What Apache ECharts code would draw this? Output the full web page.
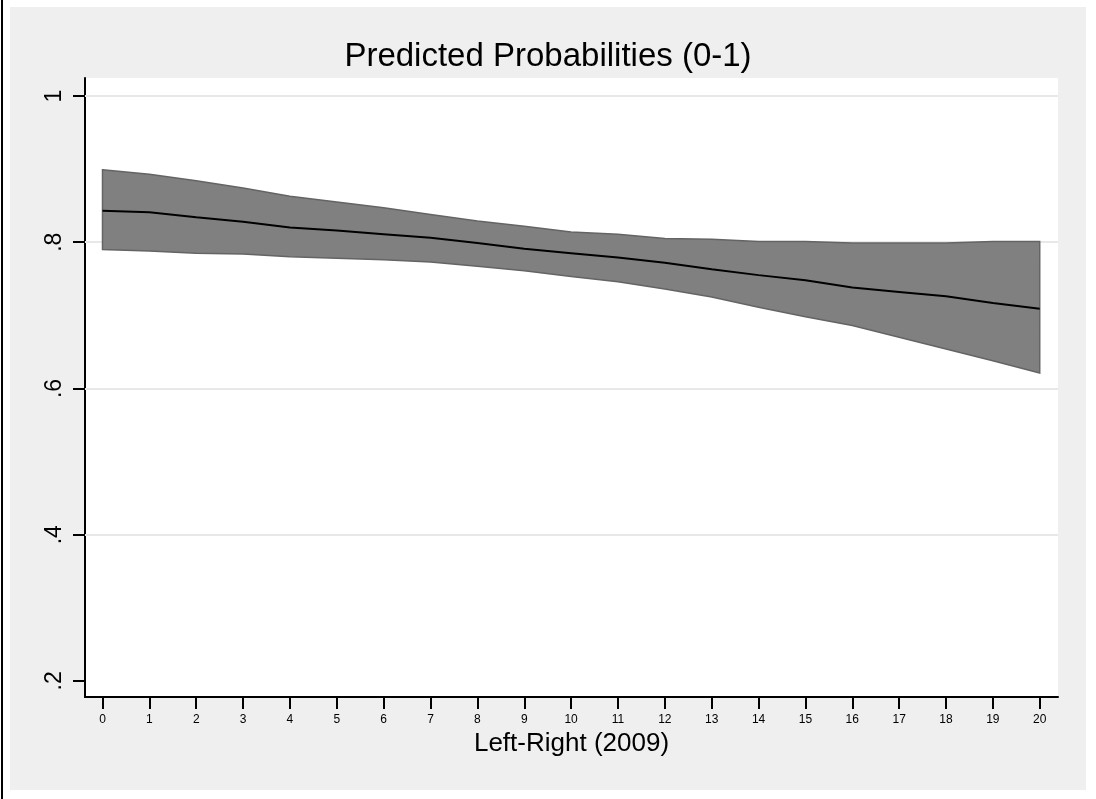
<!DOCTYPE html>
<html><head><meta charset="utf-8">
<script src="https://cdn.jsdelivr.net/npm/echarts@6/dist/echarts.min.js"></script>
<style>html,body{margin:0;padding:0;background:#fff}#c{width:1096px;height:799px}</style>
</head><body><div id="c"></div>
<script>
const xValues = [0,1,2,3,4,5,6,7,8,9,10,11,12,13,14,15,16,17,18,19,20];
const upper = [0.899,0.893,0.884,0.874,0.863,0.855,0.847,0.838,0.829,0.822,0.814,0.811,0.805,0.804,0.801,0.801,0.799,0.799,0.799,0.801,0.801];
const mean  = [0.843,0.841,0.834,0.828,0.820,0.816,0.811,0.806,0.799,0.791,0.785,0.779,0.772,0.763,0.755,0.748,0.738,0.732,0.726,0.717,0.709];
const lower = [0.790,0.788,0.785,0.784,0.780,0.778,0.776,0.773,0.767,0.761,0.753,0.746,0.736,0.725,0.711,0.698,0.686,0.670,0.654,0.638,0.621];
const xTicks = [0,1,2,3,4,5,6,7,8,9,10,11,12,13,14,15,16,17,18,19,20];
const yTicks = [0.2,0.4,0.6,0.8,1];
const yGrid = [0.4,0.6,0.8,1];
const titleText = 'Predicted Probabilities (0-1)';
const xName = 'Left-Right (2009)';

const FONT = 'Liberation Sans, Arial, sans-serif';
const chart = echarts.init(document.getElementById('c'), null, {renderer:'canvas'});
chart.setOption({
  animation: false,
  backgroundColor: '#ffffff',
  title: {
    text: titleText, left: 'center', top: 40, padding: 0,
    textStyle: {fontSize: 33, fontWeight: 'normal', color: '#000', fontFamily: FONT}
  },
  graphic: [
    {type:'rect', z:-20, shape:{x:1, y:0, width:2, height:799}, style:{fill:'#000'}},
    {type:'rect', z:-20, shape:{x:10, y:7, width:1076, height:783}, style:{fill:'#efefef'}},
    {type:'rect', z:-19, shape:{x:85, y:78, width:973, height:620}, style:{fill:'#ffffff'}}
  ],
  grid: {left: 85, right: 38, top: 78, bottom: 102, containLabel: false},
  xAxis: {
    type: 'value', min: -0.3735, max: 20.39,
    axisLine: {show: true, onZero: false, lineStyle: {color: '#000', width: 2}},
    axisTick: {show: true, customValues: xTicks, length: 12, lineStyle: {color: '#000', width: 2}},
    axisLabel: {customValues: xTicks, fontSize: 12, margin: 17, color: '#000', fontFamily: FONT},
    splitLine: {show: false},
    name: xName, nameLocation: 'middle', nameGap: 27,
    nameTextStyle: {fontSize: 26, color: '#000', fontFamily: FONT}
  },
  yAxis: {
    type: 'value', min: 0.178, max: 1.0246,
    axisLine: {show: true, onZero: false, lineStyle: {color: '#000', width: 2}},
    axisTick: {show: true, customValues: yTicks, length: 12, lineStyle: {color: '#000', width: 2}},
    axisLabel: {
      customValues: yTicks, rotate: 90, fontSize: 23, margin: 19, color: '#000', fontFamily: FONT,
      formatter: function (v) { return v >= 1 ? '1' : String(+v.toFixed(2)).replace(/^0/, ''); }
    },
    splitLine: {show: false}
  },
  series: [
    {
      type: 'line', z: 1, silent: true, data: [], symbol: 'none',
      markLine: {
        z: 1, silent: true, symbol: ['none','none'], label: {show: false}, animation: false,
        lineStyle: {color: '#e8e8e8', width: 2, type: 'solid'},
        data: yGrid.map(function (v) { return {yAxis: v}; })
      }
    },
    {
      type: 'custom', z: 2, silent: true,
      data: xValues.map(function (x, i) { return [x, lower[i], upper[i]]; }),
      encode: {x: 0, y: [1, 2]},
      renderItem: function (params, api) {
        if (params.dataIndex !== 0) return null;
        const pts = [];
        for (let i = 0; i < xValues.length; i++) pts.push(api.coord([xValues[i], upper[i]]));
        for (let i = xValues.length - 1; i >= 0; i--) pts.push(api.coord([xValues[i], lower[i]]));
        return {type: 'polygon', shape: {points: pts}, style: {fill: '#808080', stroke: '#646464', lineWidth: 1.5}};
      }
    },
    {
      type: 'line', z: 3, silent: true, symbol: 'none',
      data: xValues.map(function (x, i) { return [x, mean[i]]; }),
      lineStyle: {color: '#000', width: 2}
    }
  ]
});
</script>
</body></html>
